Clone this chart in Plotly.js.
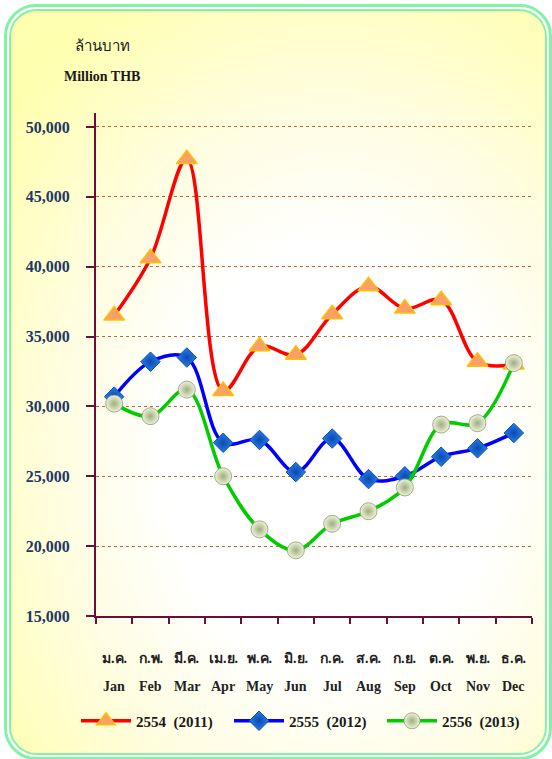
<!DOCTYPE html>
<html>
<head>
<meta charset="utf-8">
<script src="https://cdn.plot.ly/plotly-3.0.1.min.js"></script>
<style>
  html, body { margin: 0; padding: 0; width: 552px; height: 759px; background: #ffffff; overflow: hidden; }
  #frame { position: absolute; left: 4px; top: 4px; width: 538px; height: 746px;
           border: 3px solid #84f2a6; border-radius: 32px; background: #ffffff; padding: 2px; }
  #inner { box-sizing: border-box; width: 538px; height: 746px; border: 2px solid #84f2a6; border-radius: 28px;
           background: radial-gradient(ellipse 78% 72% at 60% 60%, #ffffff 40%, #fffde0 66%, #ffffb0 100%); }
  #chart { position: absolute; left: 0; top: 0; width: 552px; height: 759px; }
</style>
</head>
<body>
<div id="frame"><div id="inner"></div></div>
<div id="chart"></div>
<script>
const thaiMonths = ["ม.ค.", "ก.พ.", "มี.ค.", "เม.ย.", "พ.ค.", "มิ.ย.", "ก.ค.", "ส.ค.", "ก.ย.", "ต.ค.", "พ.ย.", "ธ.ค."];
const engMonths = ["Jan", "Feb", "Mar", "Apr", "May", "Jun", "Jul", "Aug", "Sep", "Oct", "Nov", "Dec"];
const seriesNames = ["2554\u00a0\u00a0(2011)", "2555\u00a0\u00a0(2012)", "2556\u00a0\u00a0(2013)"];
const y2554 = [36500, 40600, 47700, 31100, 34300, 33700, 36600, 38600, 37000, 37600, 33200, 33000];
const y2555 = [30700, 33200, 33500, 27400, 27600, 25300, 27700, 24800, 25000, 26400, 27000, 28100];
const y2556 = [30200, 29300, 31200, 25000, 21200, 19700, 21600, 22500, 24200, 28700, 28800, 33100];
const yTicks = [15000, 20000, 25000, 30000, 35000, 40000, 45000, 50000];

const serif = "Liberation Serif";

const traces = [
  {
    x: engMonths, y: y2554, name: seriesNames[0], type: "scatter", mode: "lines+markers", legend: "legend",
    line: { color: "#ff0000", width: 3.5, shape: "spline", smoothing: 1 },
    marker: { symbol: "triangle-up", size: 18, color: "#f7a06a", line: { color: "#ffc000", width: 1.5 } }
  },
  {
    x: engMonths, y: y2555, name: seriesNames[1], type: "scatter", mode: "lines+markers", legend: "legend2",
    line: { color: "#0000ff", width: 3.5, shape: "spline", smoothing: 1 },
    marker: { symbol: "diamond", size: 15, color: "#2a7de8", line: { color: "#0a4fb5", width: 1 },
              gradient: { type: "radial", color: "#0a4ab0" } }
  },
  {
    x: engMonths, y: y2556, name: seriesNames[2], type: "scatter", mode: "lines+markers", legend: "legend3",
    line: { color: "#00cc00", width: 3.5, shape: "spline", smoothing: 1 },
    marker: { symbol: "circle", size: 17, color: "#eef2dc", line: { color: "#8f9a70", width: 0.8 },
              gradient: { type: "radial", color: "#9fae7c" } }
  }
];

const annotations = [
  { text: "ล้านบาท", xref: "paper", yref: "paper", x: (102 - 96) / 436, y: (616 - 46) / 503,
    showarrow: false, font: { family: serif, size: 15, color: "#1a1a1a" }, xanchor: "center", yanchor: "middle" },
  { text: "<b>Million THB</b>", xref: "paper", yref: "paper", x: (102 - 96) / 436, y: (616 - 76) / 503,
    showarrow: false, font: { family: serif, size: 14, color: "#1a1a1a" }, xanchor: "center", yanchor: "middle" }
];
engMonths.forEach((m, i) => {
  annotations.push({ text: "<b>" + thaiMonths[i] + "</b>", xref: "x", yref: "paper", x: m, y: (616 - 658) / 503,
    showarrow: false, font: { family: serif, size: 14, color: "#222222" }, xanchor: "center", yanchor: "middle" });
  annotations.push({ text: "<b>" + m + "</b>", xref: "x", yref: "paper", x: m, y: (616 - 686) / 503,
    showarrow: false, font: { family: serif, size: 14, color: "#222222" }, xanchor: "center", yanchor: "middle" });
});

function legendAt(px) {
  return {
    orientation: "h", x: (px - 96) / 436, xanchor: "left", y: (616 - 721) / 503, yanchor: "middle",
    font: { family: serif, size: 15, color: "#1a1a1a", weight: "bold" },
    bgcolor: "rgba(0,0,0,0)", itemwidth: 50, borderwidth: 0
  };
}

const layout = {
  width: 552, height: 759,
  margin: { l: 96, r: 20, t: 113, b: 143 },
  paper_bgcolor: "rgba(0,0,0,0)",
  plot_bgcolor: "rgba(0,0,0,0)",
  showlegend: true,
  legend: legendAt(76),
  legend2: legendAt(229),
  legend3: legendAt(382),
  xaxis: {
    type: "category", categoryorder: "array", categoryarray: engMonths,
    range: [-0.5, 11.5], showticklabels: false, showgrid: false, zeroline: false,
    showline: true, linecolor: "#6b0f3a", linewidth: 2,
    ticks: "outside", tickson: "boundaries", ticklen: 6, tickcolor: "#6b0f3a", tickwidth: 2
  },
  yaxis: {
    range: [15000, 51000], tickmode: "array", tickvals: yTicks, tickformat: ",",
    showline: true, linecolor: "#6b0f3a", linewidth: 2,
    ticks: "outside", ticklen: 8, tickcolor: "#6b0f3a", tickwidth: 2,
    ticklabelstandoff: 13,
    showgrid: true, gridcolor: "#b0703a", griddash: "dot", gridwidth: 1, zeroline: false,
    tickfont: { family: serif, size: 16, color: "#1f3864", weight: "bold" }
  },
  annotations: annotations
};

Plotly.newPlot("chart", traces, layout, { displayModeBar: false, staticPlot: true });
</script>
</body>
</html>
